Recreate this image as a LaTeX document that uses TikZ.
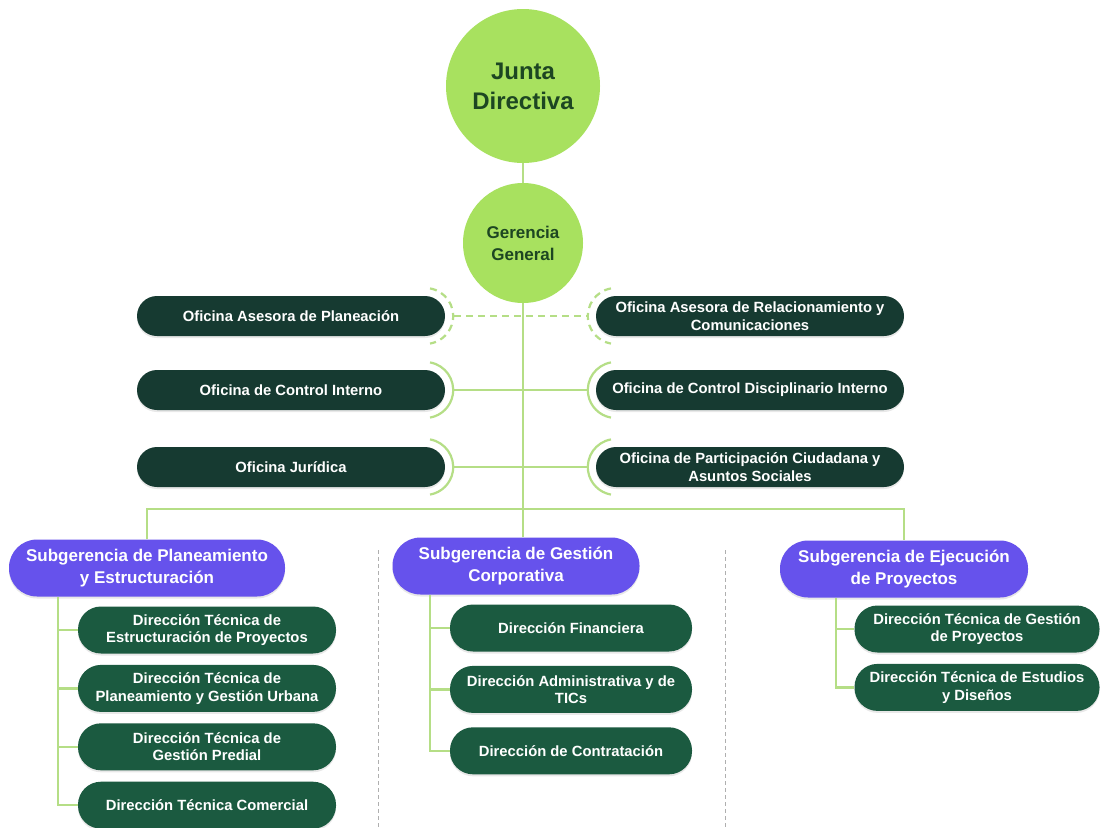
\documentclass[tikz,border=0pt]{standalone}
\usepackage{fontspec}
\setmainfont{Liberation Sans}
\usepackage{tikz}
\usetikzlibrary{positioning,calc,shadows}
\usepackage{xcolor}
\definecolor{circgreen}{HTML}{A8E15F}
\definecolor{linegreen}{HTML}{B5DE86}
\definecolor{ofdark}{HTML}{163A31}
\definecolor{dirgreen}{HTML}{1B5A40}
\definecolor{subpurple}{HTML}{6652EC}
\definecolor{txtgreen}{HTML}{1D4622}
\definecolor{sepgray}{HTML}{AFAFAF}

\tikzset{
  circ/.style={circle, fill=circgreen, text=txtgreen, align=center, inner sep=0pt},
  pill/.style={rectangle, text=white, align=center, inner sep=0pt, font=\fontsize{14.8}{17.5}\selectfont\bfseries, drop shadow={opacity=0.18, shadow xshift=0pt, shadow yshift=-2pt}},
  oficina/.style={pill, fill=ofdark, minimum width=308pt, minimum height=40pt, rounded corners=20pt},
  subg/.style={pill, fill=subpurple, minimum height=57pt, rounded corners=28pt, font=\fontsize{17}{21.5}\selectfont\bfseries},
  direc/.style={pill, fill=dirgreen, minimum height=47pt, rounded corners=23pt},
  link/.style={draw=linegreen, line width=2.2pt},
  dashlink/.style={link, dash pattern=on 7pt off 5pt},
  sep/.style={draw=sepgray, line width=1pt, dash pattern=on 4pt off 3pt}
}

\begin{document}
\begin{tikzpicture}[x=1pt, y=1pt]
\fill[white] (0,0) rectangle (1102,-827);
\useasboundingbox (0,0) rectangle (1102,-827);

\node[circ, minimum size=154pt, font=\fontsize{24}{30}\selectfont\bfseries] (junta) at (523,-86) {Junta\\Directiva};
\node[circ, minimum size=120pt, font=\fontsize{17}{22}\selectfont\bfseries] (gerencia) at (523,-243) {Gerencia\\General};

\node[oficina] (of_plan) at (291,-316) {Oficina Asesora de Planeación};
\node[oficina] (of_ci) at (291,-390) {Oficina de Control Interno};
\node[oficina] (of_jur) at (291,-467) {Oficina Jurídica};
\node[oficina] (of_rel) at (750,-316) {Oficina Asesora de Relacionamiento y\\Comunicaciones};
\node[oficina] (of_cdi) at (750,-390) {Oficina de Control Disciplinario Interno};
\node[oficina] (of_pc) at (750,-467) {Oficina de Participación Ciudadana y\\Asuntos Sociales};

\node[subg, minimum width=276pt] (sg_plan) at (147,-568) {Subgerencia de Planeamiento\\y Estructuración};
\node[subg, minimum width=247pt] (sg_gest) at (516,-566) {Subgerencia de Gestión\\Corporativa};
\node[subg, minimum width=248pt] (sg_ejec) at (904,-569) {Subgerencia de Ejecución\\de Proyectos};

\node[direc, minimum width=258pt] (dir_est) at (207,-630) {Dirección Técnica de\\Estructuración de Proyectos};
\node[direc, minimum width=258pt, below=11pt of dir_est] (dir_pla) {Dirección Técnica de\\Planeamiento y Gestión Urbana};
\node[direc, minimum width=258pt, below=11pt of dir_pla] (dir_pre) {Dirección Técnica de\\Gestión Predial};
\node[direc, minimum width=258pt, below=11pt of dir_pre] (dir_com) {Dirección Técnica Comercial};

\node[direc, minimum width=242pt] (dir_fin) at (571,-628) {Dirección Financiera};
\node[direc, minimum width=242pt, below=14pt of dir_fin] (dir_adm) {Dirección Administrativa y de\\TICs};
\node[direc, minimum width=242pt, below=14pt of dir_adm] (dir_con) {Dirección de Contratación};

\node[direc, minimum width=245pt] (dir_gp) at (977,-629) {Dirección Técnica de Gestión\\de Proyectos};
\node[direc, minimum width=245pt, below=11pt of dir_gp] (dir_ed) {Dirección Técnica de Estudios\\y Diseños};

\coordinate (bus) at (523,-509);
\draw[link] (junta) -- (gerencia);
\draw[link] (gerencia.south) -- (gerencia.south |- sg_gest.north);
\draw[link] (sg_plan.north) |- (bus) -| (sg_ejec.north);

\draw[dashlink] ([xshift=9pt]of_plan.east) -- ([xshift=-9pt]of_rel.west);
\draw[dashlink] ($(of_plan.east)+(-20,0)+(80:28)$) arc[start angle=80, end angle=-80, radius=28pt];
\draw[dashlink] ($(of_rel.west)+(20,0)+(100:28)$) arc[start angle=100, end angle=260, radius=28pt];
\foreach \l/\r in {of_ci/of_cdi, of_jur/of_pc} {
  \draw[link] ([xshift=9pt]\l.east) -- ([xshift=-9pt]\r.west);
  \draw[link] ($(\l.east)+(-20,0)+(80:28)$) arc[start angle=80, end angle=-80, radius=28pt];
  \draw[link] ($(\r.west)+(20,0)+(100:28)$) arc[start angle=100, end angle=260, radius=28pt];
}

\coordinate (trunk_plan) at ([xshift=-89pt]sg_plan.south);
\coordinate (trunk_gest) at ([xshift=-86pt]sg_gest.south);
\coordinate (trunk_ejec) at ([xshift=-68pt]sg_ejec.south);
\draw[link] (trunk_plan) |- (dir_com.west);
\foreach \n in {dir_est,dir_pla,dir_pre} \draw[link] (trunk_plan |- \n.west) -- (\n.west);
\draw[link] (trunk_gest) |- (dir_con.west);
\foreach \n in {dir_fin,dir_adm} \draw[link] (trunk_gest |- \n.west) -- (\n.west);
\draw[link] (trunk_ejec) |- (dir_ed.west);
\draw[link] (trunk_ejec |- dir_gp.west) -- (dir_gp.west);

\draw[sep] (378,-550) -- (378,-827);
\draw[sep] (725,-550) -- (725,-827);
\end{tikzpicture}
\end{document}
